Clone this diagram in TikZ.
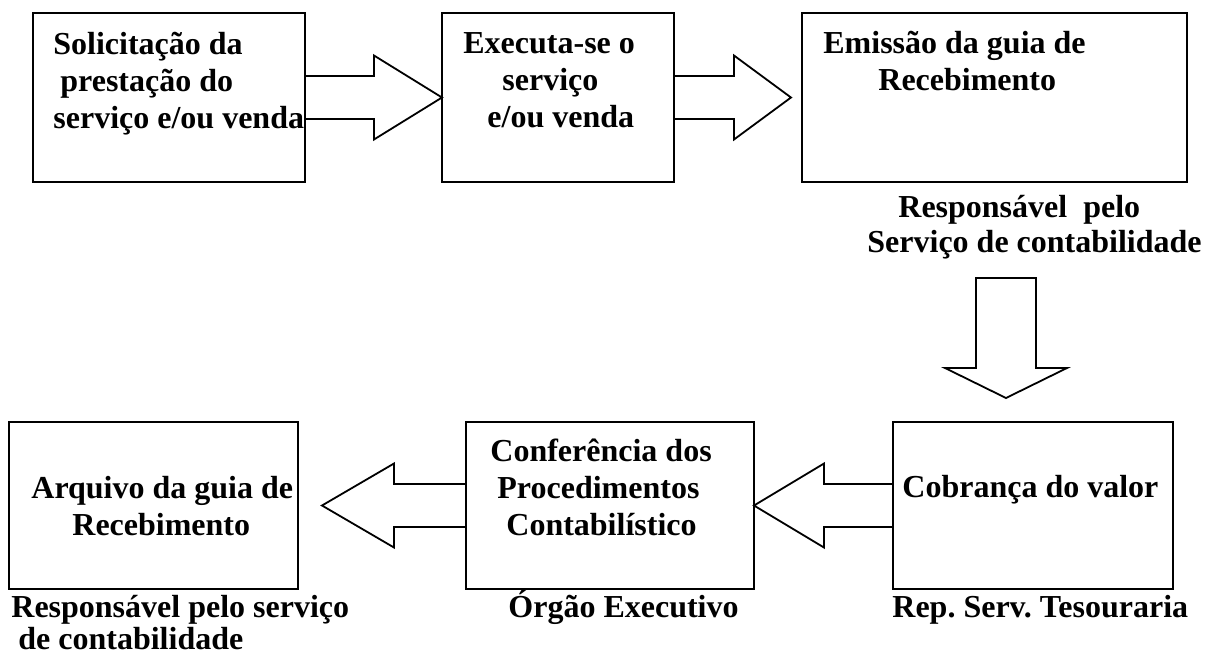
\documentclass[tikz,border=0pt]{standalone}
\usepackage{fontspec}
\setmainfont{Liberation Serif}
\usetikzlibrary{calc,positioning}
\frenchspacing

\newcommand{\harrow}[3]{%
  \draw[blockarrow] ($(#1)+(0,-21.5)$) -- ($(#2)+(#3,-21.5)$) -- ($(#2)+(#3,-42)$)
    -- (#2) -- ($(#2)+(#3,42)$) -- ($(#2)+(#3,21.5)$) -- ($(#1)+(0,21.5)$);}

\begin{document}
\begin{tikzpicture}[x=0.5pt,y=-0.5pt,
  box/.style={draw,line width=0.9pt,inner sep=0,outer sep=0},
  blockarrow/.style={draw,line width=0.9pt},
  txt/.style={inner sep=0,align=left,anchor=base west,
    font=\bfseries\fontsize{16pt}{18.5pt}\selectfont}]
\useasboundingbox (0,0) rectangle (1207,654);
\node[box,minimum width=136pt,minimum height=84.5pt] (solic) at (169,97.5) {};
\node[box,minimum width=116pt,minimum height=84.5pt] (exec) at (558,97.5) {};
\node[box,minimum width=192.5pt,minimum height=84.5pt] (emis) at (994.5,97.5) {};
\node[box,minimum width=144.5pt,minimum height=83.5pt] (arq) at (153.5,505.5) {};
\node[box,minimum width=144pt,minimum height=83.5pt] (conf) at (610,505.5) {};
\node[box,minimum width=140pt,minimum height=83.5pt] (cobr) at (1033,505.5) {};

\node[txt] (tsolic) at ($(solic.north west)+(20,115.5)$)
  {Solicitação da\\\hspace*{3.5pt}prestação do\\serviço e/ou venda};
\node[txt] (texec) at ($(exec.north west)+(21,114)$)
  {Executa-se o\\\hspace*{19.5pt}serviço\\\hspace*{12pt}e/ou venda};
\node[txt] (temis) at ($(emis.north west)+(21,77)$)
  {Emissão da guia de\\\hspace*{27.5pt}Recebimento};
\node[txt,font=\bfseries\fontsize{16pt}{17.5pt}\selectfont] (remis)
  at ($(emis.south west)+(65,70)$)
  {\hspace*{15.5pt}Responsável\ \ pelo\\Serviço de contabilidade};
\node[txt] (tarq) at ($(arq.west)+(22,29.5)$)
  {Arquivo da guia de\\\hspace*{20.5pt}Recebimento};
\node[txt,font=\bfseries\fontsize{16pt}{16pt}\selectfont] (rarq)
  at ($(arq.south west)+(2,60)$)
  {Responsável pelo serviço\\\hspace*{3.5pt}de contabilidade};
\node[txt] (tconf) at ($(conf.west)+(24,29.5)$)
  {Conferência dos\\\hspace*{3.5pt}Procedimentos\\\hspace*{8pt}Contabilístico};
\node[txt] (rconf) at ($(conf.south west)+(42,28)$) {Órgão Executivo};
\node[txt] (tcobr) at ($(cobr.west)+(9,-8.5)$) {Cobrança do valor};
\node[txt] (rcobr) at ($(cobr.south west)+(-1,28)$) {Rep. Serv. Tesouraria};

\coordinate (tip2) at ($(emis.west)+(-11,0)$);
\coordinate (tip5) at ($(arq.east)+(24,0)$);
\coordinate (dtop) at ($(emis.south)+(11.5,96)$);
\coordinate (dtip) at ($(cobr.north)+(-27,-24)$);

\harrow{solic.east}{exec.west}{-68}
\harrow{exec.east}{tip2}{-57}
\harrow{cobr.west}{conf.east}{70}
\harrow{conf.west}{tip5}{72}
\draw[blockarrow] ($(dtop)+(-30,0)$) -- ($(dtip)+(-30,-30)$) -- ($(dtip)+(-61,-30)$)
  -- (dtip) -- ($(dtip)+(61,-30)$) -- ($(dtip)+(30,-30)$) -- ($(dtop)+(30,0)$) -- cycle;
\end{tikzpicture}
\end{document}
